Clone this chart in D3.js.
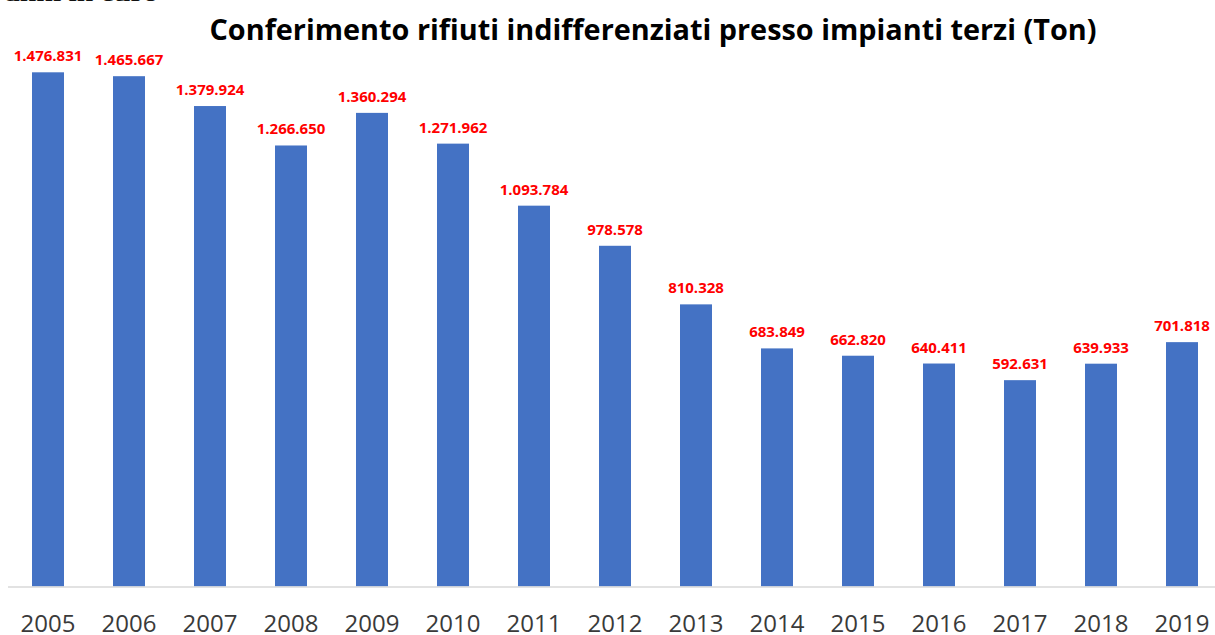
<!DOCTYPE html>
<html>
<head>
<meta charset="utf-8">
<script src="https://cdn.jsdelivr.net/npm/d3@7"></script>
<style>
  body { margin: 0; background: #fff; }
  svg { display: block; }
</style>
</head>
<body>
<div id="vis"></div>
<script>
// data
const years = ["2005", "2006", "2007", "2008", "2009", "2010", "2011", "2012",
  "2013", "2014", "2015", "2016", "2017", "2018", "2019"];
const tons = [1476831, 1465667, 1379924, 1266650, 1360294, 1271962, 1093784, 978578,
  810328, 683849, 662820, 640411, 592631, 639933, 701818];
const titleText = "Conferimento rifiuti indifferenziati presso impianti terzi (Ton)";

////////////////////////////////////////
/////////////// Options ////////////////
////////////////////////////////////////

const options = {
  width: 1215,
  height: 635,
  baseline: 586.5,
  top: 72.3,
  fill: "#4472C4",
  labelColor: "#FF0000",
  font: "'Open Sans', sans-serif",
};

const data = years.map((y, i) => ({ year: y, value: tons[i] }));

// italian thousands separator
const fmt = d3.formatLocale({ decimal: ",", thousands: ".", grouping: [3], currency: ["", "€"] }).format(",d");

////////////////////////////////////////
////////////// Scales //////////////////
////////////////////////////////////////

const xScale = d3.scaleBand()
  .domain(years)
  .range([7.5, 1222.5])
  .paddingInner(0.605)
  .paddingOuter(0.3025);

const yScale = d3.scaleLinear()
  .domain([0, d3.max(tons)])
  .range([options.baseline, options.top]);

////////////////////////////////////////
////////////// DOM Setup ///////////////
////////////////////////////////////////

const svg = d3.select("#vis").append("svg")
  .attr("width", options.width)
  .attr("height", options.height)
  .style("font-family", options.font);

// clipped line of the page above the chart (only its lower edge shows)
svg.append("text")
  .attr("x", 5)
  .attr("y", 1)
  .attr("font-family", "'Liberation Serif', serif")
  .attr("font-size", 22)
  .attr("font-weight", "bold")
  .attr("fill", "#111")
  .attr("textLength", 153)
  .attr("lengthAdjust", "spacingAndGlyphs")
  .text("anni in euro");

svg.append("text")
  .attr("x", 653)
  .attr("y", 40)
  .attr("text-anchor", "middle")
  .attr("font-size", 28)
  .attr("font-weight", "bold")
  .attr("fill", "#000")
  .attr("textLength", 887)
  .attr("lengthAdjust", "spacingAndGlyphs")
  .text(titleText);

svg.selectAll("rect.bar")
  .data(data)
  .join("rect")
  .attr("class", "bar")
  .attr("x", d => xScale(d.year))
  .attr("y", d => yScale(d.value))
  .attr("width", xScale.bandwidth())
  .attr("height", d => options.baseline - yScale(d.value))
  .attr("fill", options.fill);

svg.selectAll("text.val")
  .data(data)
  .join("text")
  .attr("class", "val")
  .attr("x", d => xScale(d.year) + xScale.bandwidth() / 2)
  .attr("y", d => yScale(d.value) - 11)
  .attr("text-anchor", "middle")
  .attr("font-size", 15)
  .attr("font-weight", "bold")
  .attr("fill", options.labelColor)
  .text(d => fmt(d.value));

const xAxis = svg.append("g")
  .attr("transform", `translate(0,${options.baseline})`)
  .call(d3.axisBottom(xScale).tickSize(0).tickPadding(28));

xAxis.select(".domain").attr("stroke", "#d9d9d9").attr("stroke-width", 1.5);
xAxis.selectAll("text")
  .attr("font-family", options.font)
  .attr("font-size", 24)
  .attr("fill", "#3a3a3a");
</script>
</body>
</html>
